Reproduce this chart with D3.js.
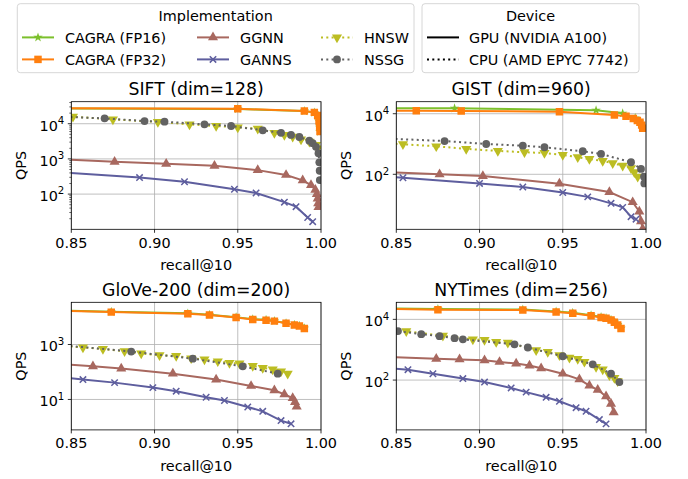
<!DOCTYPE html>
<html>
<head>
<meta charset="utf-8">
<script src="https://cdn.jsdelivr.net/npm/d3@7"></script>
<style>
  body { margin: 0; background: #fff; }
  text { font-family: "DejaVu Sans", sans-serif; fill: #000; }
</style>
</head>
<body>
<div id="chart"></div>
<script>
// ---- data: [recall@10, QPS] ----
const implementations = ["CAGRA (FP16)", "CAGRA (FP32)", "GGNN", "GANNS", "HNSW", "NSSG"];
const devices = ["GPU (NVIDIA A100)", "CPU (AMD EPYC 7742)"];
const datasets = ["SIFT (dim=128)", "GIST (dim=960)", "GloVe-200 (dim=200)", "NYTimes (dim=256)"];
const xTicks = [0.85, 0.90, 0.95, 1.00];

const siftFP16 = [[0.80, 27800], [0.95, 26200], [0.99, 22800], [0.996, 20700], [0.998, 16800], [0.9988, 11800], [0.9992, 7900], [0.9994, 5900]];
const siftFP32 = [[0.80, 28000], [0.95, 26500], [0.99, 23000], [0.996, 21000], [0.998, 17000], [0.9988, 12000], [0.9992, 8000], [0.9994, 6000]];
const siftGGNN = [[0.84, 1000], [0.876, 830], [0.907, 730], [0.936, 640], [0.962, 480], [0.979, 350], [0.989, 245], [0.994, 180], [0.9966, 133], [0.9975, 100], [0.998, 75], [0.9983, 55], [0.9985, 43]];
const siftGANNS = [[0.84, 430], [0.891, 295], [0.918, 225], [0.948, 137], [0.961, 108], [0.978, 59], [0.985, 44], [0.992, 21.6], [0.995, 16.5]];
const siftHNSW = [[0.84, 17000], [0.851, 15800], [0.875, 13300], [0.902, 11200], [0.921, 9600], [0.937, 8600], [0.950, 7900], [0.962, 7200], [0.972, 5500], [0.978, 4800], [0.983, 4300], [0.988, 3600], [0.993, 3100], [0.997, 2500], [0.998, 2000]];
const siftNSSG = [[0.84, 16000], [0.870, 14200], [0.894, 11900], [0.906, 11400], [0.930, 9600], [0.946, 8600], [0.965, 6500], [0.976, 5500], [0.982, 4800], [0.987, 4200], [0.993, 3300], [0.995, 2800], [0.997, 2200], [0.9985, 1450], [0.999, 800], [0.9992, 460], [0.9993, 250]];

const gistFP16 = [[0.84, 15200], [0.885, 15000], [0.970, 13000], [0.986, 10300], [0.9935, 7200], [0.996, 5300], [0.998, 3400]];
const gistFP32 = [[0.84, 12600], [0.862, 12500], [0.889, 12300], [0.948, 11600], [0.981, 9100], [0.988, 8200], [0.9924, 7000], [0.9948, 6000], [0.9964, 5200], [0.9974, 4200], [0.998, 3300]];
const gistGGNN = [[0.84, 122], [0.876, 100], [0.902, 88], [0.948, 49], [0.978, 26], [0.992, 12], [0.996, 5.9], [0.997, 2.8], [0.998, 1.6]];
const gistGANNS = [[0.84, 88], [0.854, 77], [0.900, 50], [0.926, 38], [0.950, 25], [0.965, 18], [0.979, 11], [0.986, 8.1], [0.991, 4], [0.994, 3.3]];
const gistHNSW = [[0.84, 1100], [0.854, 980], [0.874, 840], [0.892, 690], [0.911, 590], [0.927, 535], [0.939, 505], [0.950, 435], [0.959, 365], [0.966, 320], [0.974, 275], [0.980, 235], [0.986, 192], [0.991, 158], [0.993, 117], [0.995, 83]];
const gistNSSG = [[0.84, 1550], [0.879, 1250], [0.904, 1000], [0.926, 880], [0.939, 780], [0.962, 575], [0.973, 470], [0.991, 250], [0.997, 150], [0.9988, 83], [0.999, 50]];

const gloveFP16 = [[0.84, 17600], [0.874, 15600], [0.920, 13600], [0.933, 12100], [0.949, 9900], [0.959, 8400], [0.967, 7900], [0.972, 7200], [0.979, 6000], [0.984, 5200], [0.987, 4800], [0.990, 3900]];
const gloveFP32 = [[0.84, 17000], [0.874, 15100], [0.920, 13200], [0.933, 11800], [0.949, 9700], [0.959, 8200], [0.967, 7700], [0.972, 7100], [0.979, 5900], [0.984, 5100], [0.987, 4700], [0.990, 3800]];
const gloveGGNN = [[0.84, 200], [0.863, 161], [0.880, 133], [0.911, 87], [0.937, 53], [0.958, 31], [0.972, 21.5], [0.978, 15.3], [0.983, 11.2], [0.9844, 8], [0.9854, 5.5]];
const gloveGANNS = [[0.84, 70], [0.857, 53], [0.876, 41], [0.899, 27], [0.913, 20], [0.931, 12], [0.942, 9.2], [0.956, 5.3], [0.965, 3.7], [0.976, 1.7], [0.982, 1.3]];
const gloveHNSW = [[0.84, 950], [0.857, 780], [0.869, 690], [0.882, 570], [0.892, 470], [0.903, 410], [0.913, 385], [0.922, 315], [0.930, 285], [0.938, 245], [0.945, 215], [0.951, 204], [0.959, 167], [0.965, 140], [0.971, 125], [0.976, 106], [0.980, 87]];
const gloveNSSG = [[0.84, 1000], [0.886, 555], [0.923, 305], [0.953, 161], [0.974, 87]];

const nytFP16 = [[0.84, 23500], [0.875, 21800], [0.926, 21200], [0.946, 18200], [0.956, 16400], [0.967, 13600], [0.973, 11900], [0.976, 11000], [0.979, 9700], [0.981, 8200], [0.983, 6600], [0.985, 5100]];
const nytFP32 = [[0.84, 22500], [0.875, 20800], [0.926, 20300], [0.946, 17500], [0.956, 15800], [0.967, 13200], [0.973, 11600], [0.976, 10800], [0.979, 9500], [0.981, 8000], [0.983, 6500], [0.985, 5000]];
const nytGGNN = [[0.84, 600], [0.874, 500], [0.888, 480], [0.903, 450], [0.912, 395], [0.922, 350], [0.930, 300], [0.937, 245], [0.950, 162], [0.960, 105], [0.966, 66], [0.971, 48], [0.976, 29], [0.979, 16.6], [0.9806, 8.7]];
const nytGANNS = [[0.84, 260], [0.857, 220], [0.872, 162], [0.890, 112], [0.903, 86], [0.919, 55], [0.928, 40], [0.940, 27], [0.948, 20], [0.958, 12.3], [0.964, 9.4], [0.972, 5], [0.976, 3.6]];
const nytHNSW = [[0.845, 4500], [0.856, 4100], [0.878, 2880], [0.896, 2200], [0.903, 2100], [0.910, 1800], [0.917, 1700], [0.934, 960], [0.941, 850], [0.948, 660], [0.954, 550], [0.959, 500], [0.963, 400], [0.970, 270], [0.974, 225], [0.978, 145], [0.981, 118], [0.983, 92]];
const nytNSSG = [[0.845, 4400], [0.851, 4100], [0.865, 3250], [0.876, 2800], [0.885, 2400], [0.890, 2200], [0.921, 1500], [0.929, 1180], [0.950, 610], [0.968, 330], [0.979, 162], [0.984, 86]];

// ---- look ----
const styles = [
  {color: "#7cc02c", marker: "star", dotted: false},
  {color: "#ff7f0e", marker: "square", dotted: false},
  {color: "#a8685f", marker: "tri-up", dotted: false},
  {color: "#5e5e9e", marker: "x", dotted: false},
  {color: "#bcbd22", marker: "tri-down", dotted: true},
  {color: "#626262", marker: "circle", dotted: true}
];

const W = 688, H = 479;
const axW = 249.7, axH = 127.6;
const panels = [
  {left: 71.3, top: 101.7, dom: [10, 42200], ticks: [100, 1000, 10000], minor: true,
   series: [siftFP16, siftFP32, siftGGNN, siftGANNS, siftHNSW, siftNSSG]},
  {left: 396.3, top: 101.7, dom: [1.53, 24900], ticks: [100, 10000], minor: false,
   series: [gistFP16, gistFP32, gistGGNN, gistGANNS, gistHNSW, gistNSSG]},
  {left: 71.3, top: 302.3, dom: [0.78, 34400], ticks: [10, 1000], minor: false,
   series: [gloveFP16, gloveFP32, gloveGGNN, gloveGANNS, gloveHNSW, gloveNSSG]},
  {left: 396.3, top: 302.3, dom: [2.28, 36500], ticks: [100, 10000], minor: false,
   series: [nytFP16, nytFP32, nytGGNN, nytGANNS, nytHNSW, nytNSSG]}
];

const svg = d3.select("#chart").append("svg").attr("width", W).attr("height", H);

function marker(g, type, color) {
  let p;
  if (type === "x") {
    p = g.append("path").attr("d", "M-3.2,-3.2L3.2,3.2M-3.2,3.2L3.2,-3.2")
      .attr("stroke", color).attr("stroke-width", 1.5).attr("fill", "none");
  } else {
    let sym, size, rot = 0;
    if (type === "square") { sym = d3.symbolSquare; size = 56; }
    else if (type === "tri-up") { sym = d3.symbolTriangle; size = 44; }
    else if (type === "tri-down") { sym = d3.symbolTriangle; size = 44; rot = 180; }
    else if (type === "circle") { sym = d3.symbolCircle; size = 48; }
    else { sym = d3.symbolStar; size = 28; }
    p = g.append("path").attr("d", d3.symbol().type(sym).size(size)())
      .attr("fill", color).attr("transform", "rotate(" + rot + ")");
  }
  return p;
}

function sup(sel, v) {
  const e = Math.round(Math.log10(v));
  sel.text("10");
  sel.append("tspan").attr("dy", -6.5).attr("font-size", "10.2px").text(e);
}

panels.forEach((pn, pi) => {
  const x = d3.scaleLinear().domain([0.85, 1.0]).range([pn.left, pn.left + axW]);
  const y = d3.scaleLog().domain(pn.dom).range([pn.top + axH, pn.top]);
  const bottom = pn.top + axH;

  // grid
  svg.append("g").selectAll("line").data(xTicks).enter().append("line")
    .attr("x1", d => x(d)).attr("x2", d => x(d))
    .attr("y1", pn.top).attr("y2", bottom)
    .attr("stroke", "#b0b0b0").attr("stroke-width", 0.8);
  svg.append("g").selectAll("line").data(pn.ticks).enter().append("line")
    .attr("x1", pn.left).attr("x2", pn.left + axW)
    .attr("y1", d => y(d)).attr("y2", d => y(d))
    .attr("stroke", "#b0b0b0").attr("stroke-width", 0.8);

  // clip
  const cid = "clip" + pi;
  svg.append("clipPath").attr("id", cid).append("rect")
    .attr("x", pn.left).attr("y", pn.top).attr("width", axW).attr("height", axH);
  const plot = svg.append("g").attr("clip-path", "url(#" + cid + ")");

  const line = d3.line().x(d => x(d[0])).y(d => y(d[1]));
  pn.series.forEach((data, si) => {
    const st = styles[si];
    plot.append("path").datum(data).attr("d", line)
      .attr("fill", "none").attr("stroke", st.color).attr("stroke-width", 2)
      .attr("stroke-dasharray", st.dotted ? "2,3.3" : null);
    data.forEach(d => {
      const g = plot.append("g").attr("transform", "translate(" + x(d[0]) + "," + y(d[1]) + ")");
      marker(g, st.marker, st.color);
    });
  });

  // spines
  svg.append("rect").attr("x", pn.left).attr("y", pn.top).attr("width", axW).attr("height", axH)
    .attr("fill", "none").attr("stroke", "#000").attr("stroke-width", 0.8);

  // x axis ticks
  const xa = svg.append("g");
  xTicks.forEach(t => {
    xa.append("line").attr("x1", x(t)).attr("x2", x(t)).attr("y1", bottom).attr("y2", bottom + 3.5)
      .attr("stroke", "#000").attr("stroke-width", 0.8);
    xa.append("text").attr("x", x(t)).attr("y", bottom + 18.2).attr("text-anchor", "middle")
      .attr("font-size", "14.4px").text(t.toFixed(2));
  });
  svg.append("text").attr("x", pn.left + axW / 2).attr("y", bottom + 41)
    .attr("text-anchor", "middle").attr("font-size", "14.4px").text("recall@10");

  // y axis ticks
  const ya = svg.append("g");
  pn.ticks.forEach(t => {
    ya.append("line").attr("x1", pn.left - 3.5).attr("x2", pn.left).attr("y1", y(t)).attr("y2", y(t))
      .attr("stroke", "#000").attr("stroke-width", 0.8);
    ya.append("text").attr("x", pn.left - 7).attr("y", y(t) + 6.8).attr("text-anchor", "end")
      .attr("font-size", "14.4px").call(sup, t);
  });
  if (pn.minor) {
    const minors = [];
    for (let dec = 1; dec <= 10000; dec *= 10) {
      for (let k = 2; k <= 9; k++) {
        const v = k * dec;
        if (v > pn.dom[0] && v < pn.dom[1]) minors.push(v);
      }
    }
    ya.selectAll("line.minor").data(minors).enter().append("line").attr("class", "minor")
      .attr("x1", pn.left - 2).attr("x2", pn.left).attr("y1", d => y(d)).attr("y2", d => y(d))
      .attr("stroke", "#000").attr("stroke-width", 0.6);
  }
  const qx = pn.left - 45;
  svg.append("text").attr("transform", "translate(" + qx + "," + (pn.top + axH / 2) + ") rotate(-90)")
    .attr("text-anchor", "middle").attr("font-size", "14.4px").text("QPS");

  // title
  svg.append("text").attr("x", pn.left + axW / 2).attr("y", pn.top - 6.7)
    .attr("text-anchor", "middle").attr("font-size", "17.3px").text(datasets[pi]);
});

// ---- legends ----
function legendBox(x0, y0, w, h, title) {
  const g = svg.append("g");
  g.append("rect").attr("x", x0).attr("y", y0).attr("width", w).attr("height", h)
    .attr("rx", 3).attr("fill", "#fff").attr("fill-opacity", 0.8)
    .attr("stroke", "#cccccc").attr("stroke-width", 0.8);
  g.append("text").attr("x", x0 + w / 2).attr("y", y0 + 16.8).attr("text-anchor", "middle")
    .attr("font-size", "14.4px").text(title);
  return g;
}

const lg1 = legendBox(17.3, 3.7, 396.7, 69, "Implementation");
const colX = [22, 197, 321];
const rowY = [37.4, 59.4];
implementations.forEach((name, i) => {
  const st = styles[i];
  const cx = colX[Math.floor(i / 2)], cy = rowY[i % 2];
  lg1.append("line").attr("x1", cx).attr("x2", cx + 32).attr("y1", cy).attr("y2", cy)
    .attr("stroke", st.color).attr("stroke-width", 2)
    .attr("stroke-dasharray", st.dotted ? "2,3.3" : null);
  const g = lg1.append("g").attr("transform", "translate(" + (cx + 16) + "," + cy + ")");
  marker(g, st.marker, st.color);
  lg1.append("text").attr("x", cx + 43).attr("y", cy + 5.3).attr("font-size", "14.4px").text(name);
});

const lg2 = legendBox(422, 3.7, 217, 69, "Device");
devices.forEach((name, i) => {
  const cy = rowY[i];
  lg2.append("line").attr("x1", 427).attr("x2", 459).attr("y1", cy).attr("y2", cy)
    .attr("stroke", "#000").attr("stroke-width", 2)
    .attr("stroke-dasharray", i === 1 ? "2,3.3" : null);
  lg2.append("text").attr("x", 469).attr("y", cy + 5.3).attr("font-size", "14.4px").text(name);
});
</script>
</body>
</html>
